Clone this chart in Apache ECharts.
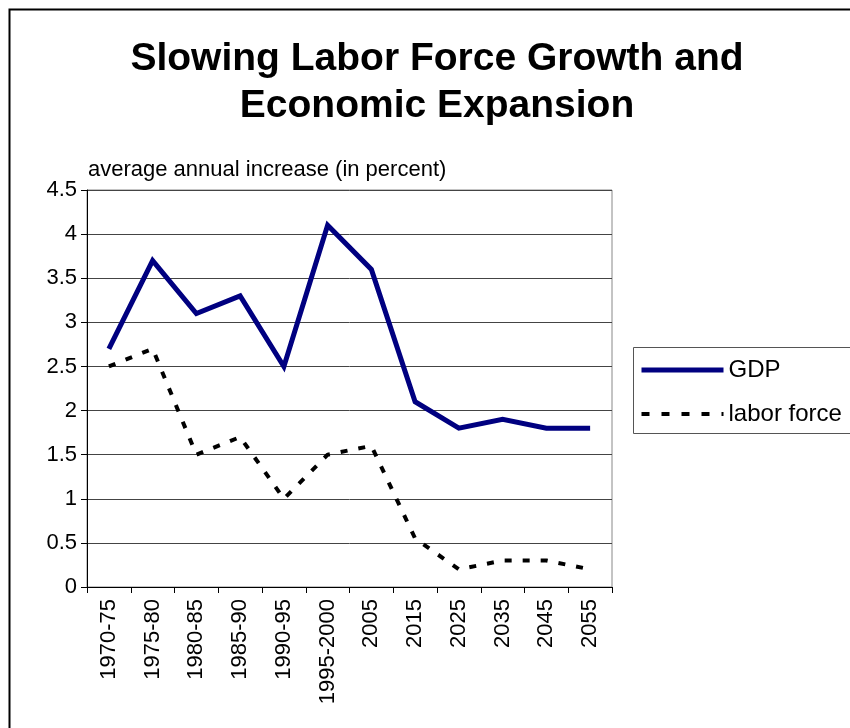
<!DOCTYPE html>
<html>
<head>
<meta charset="utf-8">
<script src="https://cdn.jsdelivr.net/npm/echarts@6/dist/echarts.min.js"></script>
<style>html,body{margin:0;padding:0;background:#fff;}#chart{width:850px;height:728px;}</style>
</head>
<body>
<div id="chart"></div>
<script>
const categories = ['1970-75','1975-80','1980-85','1985-90','1990-95','1995-2000','2005','2015','2025','2035','2045','2055'];
const gdp = [2.7, 3.7, 3.1, 3.3, 2.5, 4.1, 3.6, 2.1, 1.8, 1.9, 1.8, 1.8];
const laborForce = [2.5, 2.7, 1.5, 1.7, 1.0, 1.5, 1.6, 0.55, 0.2, 0.3, 0.3, 0.2];
const titleText = 'Slowing Labor Force Growth and\nEconomic Expansion';
const yAxisTitle = 'average annual increase (in percent)';

const chart = echarts.init(document.getElementById('chart'), null, {renderer: 'canvas'});
const FONT = 'Liberation Sans, Arial, sans-serif';
chart.setOption({
  animation: false,
  backgroundColor: '#fff',
  title: {
    text: titleText,
    left: 432, top: 31, textAlign: 'center',
    textStyle: {fontFamily: FONT, fontWeight: 'bold', fontSize: 39, lineHeight: 47, color: '#000'}
  },
  legend: {
    orient: 'vertical', left: 634, top: 353,
    itemWidth: 82, itemHeight: 10, itemGap: 20,
    itemStyle: {opacity: 0, borderWidth: 0},
    textStyle: {fontFamily: FONT, fontSize: 24, color: '#000'},
    data: [
      {name: 'GDP', lineStyle: {width: 5, color: '#000080'}},
      {name: 'labor force', lineStyle: {width: 4, color: '#000', type: [8, 12]}}
    ]
  },
  graphic: [
    {type: 'rect', shape: {x: 9.5, y: 9.5, width: 900, height: 900}, style: {fill: 'none', stroke: '#000', lineWidth: 2}, z: 0},
    {type: 'rect', shape: {x: 633.5, y: 347.5, width: 240, height: 86}, style: {fill: 'none', stroke: '#555', lineWidth: 1}},
    {type: 'text', left: 88, top: 159, style: {text: yAxisTitle, fontFamily: FONT, fontSize: 22, fill: '#000'}}
  ],
  grid: {left: 87, top: 190, right: 238, bottom: 141, show: true, borderColor: '#888', borderWidth: 1, containLabel: false},
  xAxis: {
    type: 'category', data: categories, boundaryGap: true,
    axisLine: {lineStyle: {color: '#000', width: 1}},
    axisTick: {show: true, length: 6, alignWithLabel: false, lineStyle: {color: '#000'}},
    axisLabel: {rotate: 90, interval: 0, fontFamily: FONT, fontSize: 22, color: '#000', margin: 12},
    splitLine: {show: false}
  },
  yAxis: {
    type: 'value', min: 0, max: 4.5, interval: 0.5,
    axisLine: {show: true, lineStyle: {color: '#000', width: 1}},
    axisTick: {show: true, length: 6, lineStyle: {color: '#000'}},
    axisLabel: {fontFamily: FONT, fontSize: 22, color: '#000', margin: 10},
    splitLine: {show: true, lineStyle: {color: '#444', width: 1}}
  },
  series: [
    {name: 'GDP', type: 'line', data: gdp, symbol: 'none', lineStyle: {color: '#000080', width: 5, join: 'miter'}, itemStyle: {color: '#000080'}},
    {name: 'labor force', type: 'line', data: laborForce, symbol: 'none', lineStyle: {color: '#000', width: 4, type: [7, 11]}, itemStyle: {color: '#000'}}
  ]
});
</script>
</body>
</html>
